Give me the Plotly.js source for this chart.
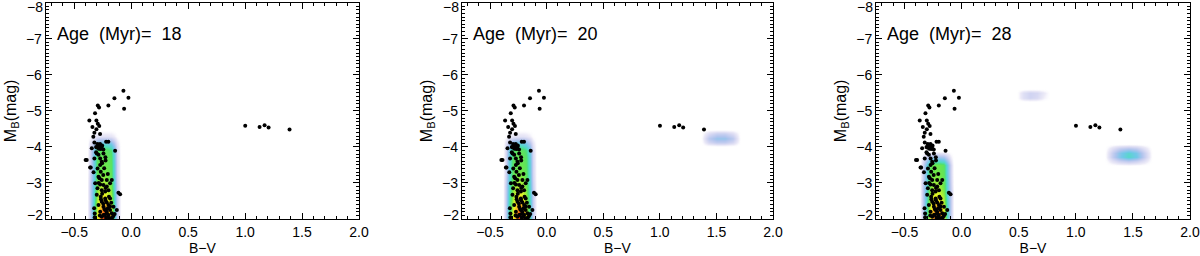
<!DOCTYPE html>
<html>
<head>
<meta charset="utf-8">
<script src="https://cdn.plot.ly/plotly-3.0.1.min.js"></script>
<style>html,body{margin:0;padding:0;background:#fff;}#chart{width:1200px;height:256px;}</style>
</head>
<body>
<div id="chart"></div>
<script>
// ---- data ----
const ages = [18, 20, 28];

// observed stars (same in all panels): B-V colour and M_B
const starBV = [
 -0.068,-0.024,-0.147,-0.062,-0.200,-0.293,-0.282,-0.317,-0.367,-0.305,-0.293,-0.280,-0.340,-0.323,-0.273,-0.332,-0.305,
 1.001,1.127,1.171,1.206,1.390,
 -0.323,-0.297,-0.273,-0.255,-0.220,-0.200,-0.308,-0.284,-0.346,-0.244,-0.302,-0.226,-0.141,-0.323,-0.400,-0.360,-0.287,-0.265,
 -0.281,-0.258,-0.302,-0.267,-0.308,-0.287,-0.243,-0.272,-0.390,-0.258,-0.355,-0.272,-0.237,-0.267,-0.287,-0.278,-0.258,-0.214,
 -0.170,-0.316,-0.272,-0.243,-0.214,-0.185,-0.296,-0.258,-0.228,-0.199,-0.112,-0.097,-0.302,-0.267,-0.228,-0.185,-0.258,-0.214,
 -0.287,-0.243,-0.199,-0.155,-0.228,-0.185,-0.272,-0.214,-0.170,-0.126,-0.243,-0.199,-0.155,-0.258,-0.220,-0.185,
 -0.235,-0.205,-0.245,-0.225,-0.195,-0.255,-0.175,-0.215,-0.235,-0.205,-0.165,-0.275,-0.320,-0.145,-0.185,-0.265,-0.225,-0.285,
 -0.245,-0.295,-0.205,-0.255,-0.225,-0.330,-0.320,-0.325
];
const starMB = [
 -5.56,-5.36,-5.35,-5.06,-5.15,-5.15,-5.09,-4.93,-4.73,-4.73,-4.64,-4.58,-4.55,-4.39,-4.36,-4.28,-4.49,
 -4.59,-4.55,-4.60,-4.54,-4.48,
 -4.12,-4.08,-4.08,-4.04,-4.14,-4.14,-4.00,-3.95,-3.96,-3.93,-3.82,-3.71,-3.89,-3.68,-3.64,-3.43,-4.06,-3.99,
 -4.03,-4.01,-3.98,-3.94,-3.85,-3.78,-3.82,-3.68,-3.64,-3.59,-3.43,-3.50,-3.41,-3.31,-3.17,-3.13,-3.08,-3.08,
 -3.08,-2.99,-2.96,-2.94,-2.90,-2.99,-2.85,-2.80,-2.76,-2.80,-2.73,-2.69,-2.67,-2.62,-2.57,-2.57,-2.48,-2.46,
 -2.39,-2.34,-2.39,-2.34,-2.25,-2.25,-2.20,-2.16,-2.16,-2.25,-2.11,-2.11,-2.09,-2.06,-2.04,-2.02,
 -2.28,-2.30,-2.42,-2.52,-2.62,-2.70,-2.45,-2.20,-2.12,-2.06,-2.05,-2.10,-2.15,-2.14,-2.35,-2.55,-2.86,-3.00,
 -3.22,-3.40,-3.25,-3.55,-3.62,-3.30,-2.05,-2.30
];

// model density maps (relative 0-10)
const msX12 = [-0.39,-0.36,-0.33,-0.30,-0.27,-0.24,-0.21,-0.18,-0.15,-0.12,-0.09];
const msY12 = [-1.9,-2.1,-2.3,-2.5,-2.7,-2.9,-3.1,-3.3,-3.5,-3.7,-3.9,-4.1,-4.3,-4.5];
const msZ12 = [
 [0,2,5,7.5,9,10,9.5,8,5,2,0],
 [0,2,5,7.5,9,10,9.5,8,5,2,0],
 [0,2,5,7.3,8.6,9.3,8.8,7.6,5,2,0],
 [0,2,4.8,7,8,8.4,8,7.2,4.8,2,0],
 [0,2,4.6,6.8,7.5,7.7,7.4,6.8,4.6,2,0],
 [0,2,4.4,6.5,7,7.2,7,6.4,4.4,1.8,0],
 [0,1.8,4.2,6.2,6.6,6.8,6.6,6.1,4.3,1.6,0],
 [0,1.6,4,6,6.3,6.4,6.3,6,4.2,1.5,0],
 [0,1.5,4,5.9,6.2,6.3,6.2,5.9,4.2,1.5,0],
 [0,1.5,4,5.8,6.1,6.2,6.1,5.8,4.1,1.4,0],
 [0,1.4,3.8,5.5,5.9,6,5.9,5.5,3.9,1.3,0],
 [0,1,2.4,3.6,4,4.1,4,3.6,2.4,0.9,0],
 [0,0.2,0.6,0.9,1,1,1,0.9,0.6,0.2,0],
 [0,0,0,0,0,0,0,0,0,0,0]
];
const msX3 = [-0.37,-0.34,-0.31,-0.28,-0.25,-0.22,-0.19,-0.16,-0.13,-0.10,-0.07];
const msY3 = [-1.9,-2.1,-2.3,-2.5,-2.7,-2.9,-3.1,-3.3,-3.5,-3.7,-3.9];
const msZ3 = [
 [0,2,5,7.5,9,10,9.5,8,5,2,0],
 [0,2,5,7.5,9,9.8,9.3,7.8,5,2,0],
 [0,2,5,7.2,8.5,9,8.6,7.5,5,2,0],
 [0,2,4.8,7,7.9,8.2,7.9,7.1,4.8,2,0],
 [0,2,4.6,6.7,7.4,7.6,7.3,6.7,4.6,2,0],
 [0,2,4.4,6.4,6.9,7.1,6.9,6.3,4.4,1.8,0],
 [0,1.8,4.2,6.2,6.6,6.7,6.5,6.1,4.3,1.6,0],
 [0,1.6,4,6,6.3,6.4,6.3,6,4.2,1.5,0],
 [0,1.5,4,5.9,6.2,6.3,6.2,5.9,4.2,1.5,0],
 [0,0.8,2,3,3.2,3.3,3.2,3,2.1,0.7,0],
 [0,0,0,0,0,0,0,0,0,0,0]
];
// red clump blob, 20 Myr
const rc2X = [1.36,1.43,1.50,1.57,1.64,1.71];
const rc2Y = [-4.00,-4.12,-4.24,-4.36,-4.48];
const rc2Z = [
 [0,0,0,0,0,0],
 [0,1.4,2,2,1.4,0],
 [0,2.2,3,3,2.2,0],
 [0,1.2,1.8,1.8,1.2,0],
 [0,0,0,0,0,0]
];
// red clump blob, 28 Myr
const rc3X = [1.25,1.32,1.39,1.46,1.53,1.60,1.67];
const rc3Y = [-3.48,-3.60,-3.72,-3.84,-3.96,-4.08];
const rc3Z = [
 [0,0,0,0,0,0,0],
 [0,1,1.8,2.2,1.8,1,0],
 [0,2,3.6,4.6,3.8,1.9,0],
 [0,1.9,3.5,4.4,3.6,1.8,0],
 [0,1,1.8,2.1,1.8,0.9,0],
 [0,0,0,0,0,0,0]
];
// blue-loop blob, 28 Myr
const bl3X = [0.48,0.54,0.60,0.66,0.72,0.78];
const bl3Y = [-5.25,-5.37,-5.49,-5.61];
const bl3Z = [
 [0,0,0,0,0,0],
 [0,1.1,1.6,1.3,0.5,0],
 [0,1.1,1.6,1.4,0.7,0],
 [0,0,0,0,0,0]
];

const xTickVals = [-0.5,0.0,0.5,1.0,1.5,2.0];
const xTickText = ['\u22120.5','0.0','0.5','1.0','1.5','2.0'];
const yTickVals = [-8,-7,-6,-5,-4,-3,-2];
const yTickText = ['', '\u22127','\u22126','\u22125','\u22124','\u22123',''];

// ---- styling ----
const cscale = [
 [0.00,'rgba(255,255,255,0)'],
 [0.06,'#eeecf8'],
 [0.15,'#d4d6f2'],
 [0.25,'#b0c4ee'],
 [0.38,'#70c8e8'],
 [0.48,'#50dcc0'],
 [0.56,'#50e070'],
 [0.64,'#70e848'],
 [0.72,'#c0f030'],
 [0.78,'#f4f020'],
 [0.86,'#f8c020'],
 [0.93,'#f88018'],
 [1.00,'#f03010']
];
const FONT = 'Liberation Sans, Arial, Helvetica, sans-serif';
const xDomains = [[0.0381,0.2992],[0.3848,0.6442],[0.7300,0.9917]];
const yDomain = [0.1445,0.9895];

function hm(x,y,z,i){
  return {type:'heatmap', x:x, y:y, z:z, zmin:0, zmax:10, zsmooth:'best',
    colorscale:cscale, showscale:false, hoverinfo:'skip',
    xaxis: i===0?'x':'x'+(i+1), yaxis: i===0?'y':'y'+(i+1)};
}
const traces = [];
const maps = [
  [[msX12,msY12,msZ12]],
  [[msX12,msY12,msZ12],[rc2X,rc2Y,rc2Z]],
  [[msX3,msY3,msZ3],[rc3X,rc3Y,rc3Z],[bl3X,bl3Y,bl3Z]]
];
const layout = {width:1200, height:256, margin:{l:0,r:0,t:0,b:0},
  paper_bgcolor:'#fff', plot_bgcolor:'rgba(0,0,0,0)', showlegend:false,
  font:{family:FONT, size:14, color:'#000'}, annotations:[]};

for(let i=0;i<3;i++){
  maps[i].forEach(m=>traces.push(hm(m[0],m[1],m[2],i)));
  traces.push({type:'scatter', mode:'markers', x:starBV, y:starMB,
    marker:{color:'#000', size:4, line:{width:0}}, hoverinfo:'skip',
    xaxis: i===0?'x':'x'+(i+1), yaxis: i===0?'y':'y'+(i+1)});
  const xa = i===0?'xaxis':'xaxis'+(i+1);
  const ya = i===0?'yaxis':'yaxis'+(i+1);
  const xr = i===0?'x':'x'+(i+1);
  const yr = i===0?'y':'y'+(i+1);
  layout[xa] = {domain:xDomains[i], anchor:yr, range:[-0.75,2.0],
    showline:true, linecolor:'#000', linewidth:1, mirror:'allticks',
    ticks:'inside', ticklen:6, tickwidth:1, tickcolor:'#000',
    tickmode:'array', tickvals:xTickVals, ticktext:xTickText,
    minor:{dtick:0.1, tick0:0, ticks:'inside', ticklen:3, tickcolor:'#000', tickwidth:1},
    showgrid:false, zeroline:false, tickfont:{size:14, family:FONT},
    title:{text:'B\u2212V', font:{size:14, family:FONT}, standoff:3}, automargin:false};
  layout[ya] = {domain:yDomain, anchor:xr, range:[-2,-8],
    showline:true, linecolor:'#000', linewidth:1, mirror:'allticks',
    ticks:'inside', ticklen:6, tickwidth:1, tickcolor:'#000',
    tickmode:'array', tickvals:yTickVals, ticktext:yTickText,
    minor:{dtick:0.1, tick0:0, ticks:'inside', ticklen:3, tickcolor:'#000', tickwidth:1},
    showgrid:false, zeroline:false, tickfont:{size:14, family:FONT},
    title:{text:'M<sub>B</sub>(mag)', font:{size:16, family:FONT}, standoff:5}, automargin:false};
  // end tick labels drawn inside the frame like the original
  layout.annotations.push({xref:xr+' domain', yref:yr, x:0, y:-8, xanchor:'right', yanchor:'middle',
    xshift:-1, yshift:-4, text:'\u22128', showarrow:false, font:{size:14, family:FONT}});
  layout.annotations.push({xref:xr+' domain', yref:yr, x:0, y:-2, xanchor:'right', yanchor:'middle',
    xshift:-1, yshift:4, text:'\u22122', showarrow:false, font:{size:14, family:FONT}});
  layout.annotations.push({xref:xr+' domain', yref:yr+' domain', x:0.03, y:0.857, xanchor:'left', yanchor:'middle',
    text:'Age\u00a0\u00a0(Myr)=\u00a0\u00a0'+ages[i], showarrow:false, font:{size:18, family:FONT}});
}

Plotly.newPlot('chart', traces, layout, {staticPlot:true, displayModeBar:false});
</script>
</body>
</html>
